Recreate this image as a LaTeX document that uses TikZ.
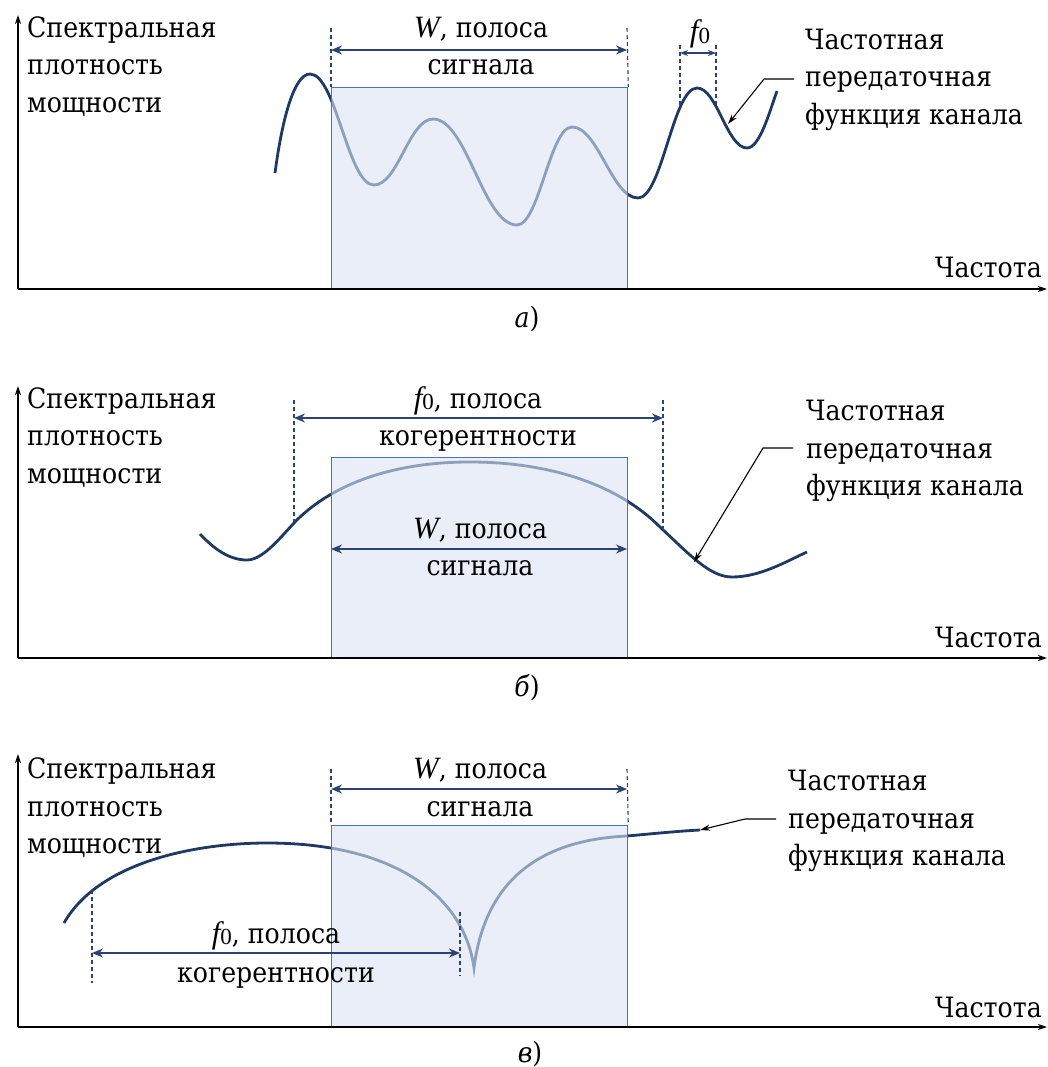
\documentclass[tikz,border=0pt]{standalone}
\usepackage{fontspec}
\setmainfont{DejaVu Serif}[FakeStretch=0.9]
\newfontfamily\lat{Liberation Serif}
\usetikzlibrary{arrows.meta}
\definecolor{navy}{HTML}{203864}
\definecolor{dimc}{HTML}{2B4272}
\definecolor{rectb}{HTML}{4472C4}
\definecolor{rectf}{HTML}{DAE3F3}
\newcommand{\fnull}{{\lat\fontsize{31}{37}\selectfont\itshape f}\raisebox{-1.5pt}{\lat\fontsize{23}{23}\selectfont 0}}
\newcommand{\Wit}{{\lat\fontsize{31}{37}\selectfont\itshape W}}
\tikzset{
  x=1pt, y=-1pt,
  lbl/.style={font=\fontsize{28}{34}\selectfont, inner sep=0pt},
  axis/.style={line width=1.4pt, black, -{Stealth[length=9pt,width=6pt]}},
  curve/.style={line width=2.8pt, navy},
  band/.style={draw=rectb, line width=1.3pt, fill=rectf, fill opacity=0.6},
  dimline/.style={line width=1.5pt, dimc, {Stealth[length=11pt,width=9pt]}-{Stealth[length=11pt,width=9pt]}},
  guide/.style={line width=1.1pt, dimc, dash pattern=on 4pt off 3pt},
  pointer/.style={line width=1.1pt, black, -{Stealth[length=10pt,width=6pt]}},
}
\begin{document}
\begin{tikzpicture}
\useasboundingbox (0,0) rectangle (1048,1067);

% ================= panel a =================
\draw[curve] (275,173) .. controls (282,120) and (294,74) .. (310,74)
  .. controls (336,74) and (348,185) .. (374,185)
  .. controls (398,185) and (409,119) .. (433,119)
  .. controls (467,119) and (483,225) .. (517,225)
  .. controls (539,225) and (550,127) .. (572,127)
  .. controls (598,127) and (612,198) .. (638,198)
  .. controls (662,198) and (673,88) .. (697,88)
  .. controls (717,88) and (727,148) .. (747,148)
  .. controls (760,148) and (770,110) .. (777,91);
\node[band, minimum width=296pt, minimum height=202pt, inner sep=0pt, anchor=north west] (ra) at (331,87) {};
\coordinate (oa) at (18,289);
\coordinate (ya) at (18,15);
\coordinate (xa) at (1047,289);
\draw[axis] (oa) -- (ya);
\draw[axis] (oa) -- (xa);
\coordinate (ga1) at (331,28); \coordinate (ga2) at (627,28);
\draw[guide] (ga1) -- (ra.north west);
\draw[guide] (ga2) -- (ra.north east);
\coordinate (wa1) at (331,50); \coordinate (wa2) at (627,50);
\draw[dimline] (wa1) -- (wa2);
\coordinate (fa1t) at (680,45); \coordinate (fa1b) at (680,105);
\coordinate (fa2t) at (716,45); \coordinate (fa2b) at (716,105);
\draw[guide] (fa1t) -- (fa1b);
\draw[guide] (fa2t) -- (fa2b);
\coordinate (fa1) at (680,53); \coordinate (fa2) at (716,53);
\draw[dimline, {Stealth[length=8pt,width=6pt]}-{Stealth[length=8pt,width=6pt]}, line width=1.1pt] (fa1) -- (fa2);
\node[lbl, anchor=base] (fla) at (700,42) {\fnull};
\node[lbl, anchor=base] (wla1) at (481,38) {\Wit, полоса};
\node[lbl, anchor=base] (wla2) at (481,75) {сигнала};
\node[lbl, anchor=base west] (sa1) at (27,38) {Спектральная};
\node[lbl, anchor=base west] (sa2) at (27,75) {плотность};
\node[lbl, anchor=base west] (sa3) at (27,113) {мощности};
\node[lbl, anchor=base west] (ca1) at (805,50) {Частотная};
\node[lbl, anchor=base west] (ca2) at (805,87) {передаточная};
\node[lbl, anchor=base west] (ca3) at (805,125) {функция канала};
\node[lbl, anchor=base east] (fqa) at (1042,277) {Частота};
\coordinate (pa0) at (794,79); \coordinate (pa1) at (764,79); \coordinate (pa2) at (728,124);
\draw[pointer] (pa0) -- (pa1) -- (pa2);
\node[lbl, anchor=base] (capa) at (527,327) {\textit{а})};

% ================= panel b =================
\draw[curve] (200,534) .. controls (215,550) and (230,560) .. (247,560)
  .. controls (265,560) and (285,531) .. (300,517)
  .. controls (340,480) and (400,462) .. (470,462)
  .. controls (545,462) and (615,482) .. (660,527)
  .. controls (690,555) and (710,577) .. (732,577)
  .. controls (760,577) and (785,562) .. (807,552);
\node[band, minimum width=296pt, minimum height=201pt, inner sep=0pt, anchor=north west] (rb) at (331,457) {};
\coordinate (ob) at (18,658);
\coordinate (yb) at (18,386);
\coordinate (xb) at (1047,658);
\draw[axis] (ob) -- (yb);
\draw[axis] (ob) -- (xb);
\coordinate (gb1t) at (294,400); \coordinate (gb1b) at (294,522);
\coordinate (gb2t) at (663,400); \coordinate (gb2b) at (663,528);
\draw[guide] (gb1t) -- (gb1b);
\draw[guide] (gb2t) -- (gb2b);
\coordinate (fb1) at (294,418); \coordinate (fb2) at (663,418);
\draw[dimline] (fb1) -- (fb2);
\coordinate (wb1) at (331,549); \coordinate (wb2) at (627,549);
\draw[dimline] (wb1) -- (wb2);
\node[lbl, anchor=base] (flb1) at (478,408) {\fnull, полоса};
\node[lbl, anchor=base] (flb2) at (478,445) {когерентности};
\node[lbl, anchor=base] (wlb1) at (480,538) {\Wit, полоса};
\node[lbl, anchor=base] (wlb2) at (480,575) {сигнала};
\node[lbl, anchor=base west] (sb1) at (27,408) {Спектральная};
\node[lbl, anchor=base west] (sb2) at (27,445) {плотность};
\node[lbl, anchor=base west] (sb3) at (27,483) {мощности};
\node[lbl, anchor=base west] (cb1) at (806,420) {Частотная};
\node[lbl, anchor=base west] (cb2) at (806,458) {передаточная};
\node[lbl, anchor=base west] (cb3) at (806,495) {функция канала};
\node[lbl, anchor=base east] (fqb) at (1042,647) {Частота};
\coordinate (pb0) at (793,448); \coordinate (pb1) at (763,448); \coordinate (pb2) at (694,562);
\draw[pointer] (pb0) -- (pb1) -- (pb2);
\node[lbl, anchor=base] (capb) at (527,696) {\textit{б})};

% ================= panel c =================
\draw[curve] (64,923) .. controls (100,860) and (200,843) .. (267,843)
  .. controls (400,843) and (465,900) .. (474,968)
  .. controls (485,880) and (540,840) .. (627,836)
  .. controls (660,833) and (680,831) .. (700,830);
\node[band, minimum width=296pt, minimum height=202pt, inner sep=0pt, anchor=north west] (rc) at (331,825) {};
\coordinate (oc) at (18,1027);
\coordinate (yc) at (18,754);
\coordinate (xc) at (1047,1027);
\draw[axis] (oc) -- (yc);
\draw[axis] (oc) -- (xc);
\coordinate (gc1) at (331,769); \coordinate (gc2) at (627,769);
\draw[guide] (gc1) -- (rc.north west);
\draw[guide] (gc2) -- (rc.north east);
\coordinate (wc1) at (331,789); \coordinate (wc2) at (627,789);
\draw[dimline] (wc1) -- (wc2);
\coordinate (gc3t) at (92,890); \coordinate (gc3b) at (92,983);
\coordinate (gc4t) at (460,912); \coordinate (gc4b) at (460,976);
\draw[guide] (gc3t) -- (gc3b);
\draw[guide] (gc4t) -- (gc4b);
\coordinate (fc1) at (92,953); \coordinate (fc2) at (460,953);
\draw[dimline] (fc1) -- (fc2);
\node[lbl, anchor=base] (wlc1) at (480,778) {\Wit, полоса};
\node[lbl, anchor=base] (wlc2) at (480,816) {сигнала};
\node[lbl, anchor=base] (flc1) at (276,943) {\fnull, полоса};
\node[lbl, anchor=base] (flc2) at (276,982) {когерентности};
\node[lbl, anchor=base west] (sc1) at (27,778) {Спектральная};
\node[lbl, anchor=base west] (sc2) at (27,816) {плотность};
\node[lbl, anchor=base west] (sc3) at (27,853) {мощности};
\node[lbl, anchor=base west] (cc1) at (788,790) {Частотная};
\node[lbl, anchor=base west] (cc2) at (788,828) {передаточная};
\node[lbl, anchor=base west] (cc3) at (788,865) {функция канала};
\node[lbl, anchor=base east] (fqc) at (1042,1017) {Частота};
\coordinate (pc0) at (776,819); \coordinate (pc1) at (745,819); \coordinate (pc2) at (700,830);
\draw[pointer] (pc0) -- (pc1) -- (pc2);
\node[lbl, anchor=base] (capc) at (530,1062) {\textit{в})};
\end{tikzpicture}
\end{document}
